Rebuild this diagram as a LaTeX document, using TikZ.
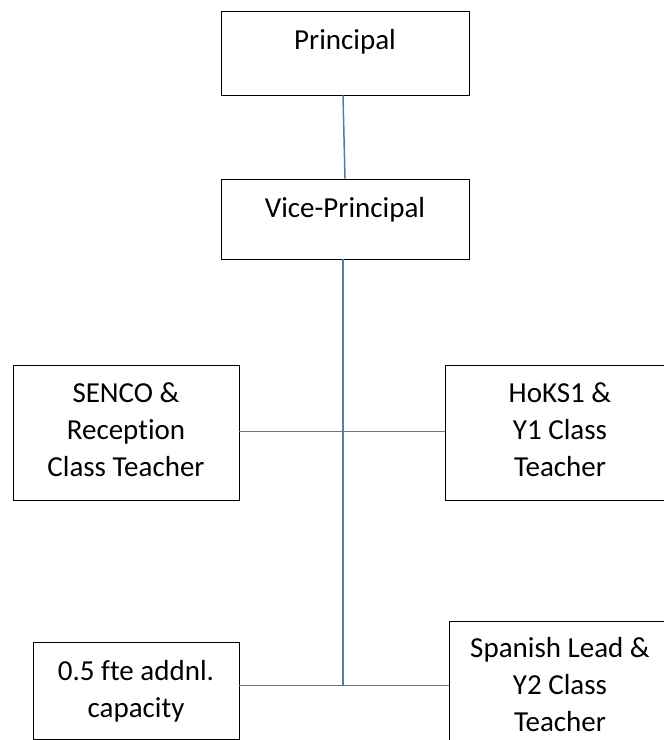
\documentclass[tikz,border=0pt]{standalone}
\usepackage{fontspec}
\setmainfont{Carlito}[Ligatures=NoCommon]
\usetikzlibrary{calc, positioning}
\definecolor{linkblue}{RGB}{74,126,187}
\tikzset{
  post/.style = {draw, line width=0.8pt, inner sep=0pt},
  posttext/.style = {inner sep=0pt, align=center, font=\fontsize{29}{37}\selectfont},
  link/.style = {draw=linkblue, line width=1.5pt}
}

\begin{document}
\begin{tikzpicture}[x=1pt, y=1pt]
  \useasboundingbox (0,0) rectangle (664,-740);
  \clip (0,0) rectangle (664,-740);

  % boxes
  \node[post, minimum width=248pt, minimum height=84pt] (prin) at (345,-53) {};
  \node[post, minimum width=248pt, minimum height=80pt] (vice) at (345,-219) {};
  \node[post, minimum width=226pt, minimum height=135pt] (senco) at (126,-432.5) {};
  \node[post, minimum width=230pt, minimum height=135pt] (hoks) at (560,-432.5) {};
  \node[post, minimum width=206pt, minimum height=97pt] (fte) at (136,-690.5) {};
  \node[post, minimum width=222pt, minimum height=140pt] (span) at (560,-691) {};

  % texts
  \node[posttext, below=12.5pt of prin.north] (prinT) {\strut Principal};
  \node[posttext, below=12.5pt of vice.north] (viceT) {\strut Vice-Principal};
  \node[posttext, below=12pt of senco.north] (sencoT) {\strut SENCO \&\\Reception\\Class Teacher};
  \node[posttext, below=12pt of hoks.north] (hoksT) {\strut HoKS1 \&\\Y1 Class\\Teacher};
  \node[posttext, below=13pt of fte.north] (fteT) {\strut 0.5 fte addnl.\\capacity};
  \node[posttext, below=11pt of span.north] (spanT) {\strut Spanish Lead \&\\Y2 Class\\Teacher};

  % connectors
  \coordinate (jtop) at ($(vice.south)+(-2,0)$);
  \coordinate (jmid) at ($(jtop)+(0,-172)$);
  \coordinate (jbot) at ($(jtop)+(0,-426)$);
  \draw[link] ($(prin.south)+(-2,0)$) -- (vice.north);
  \draw[link] (jtop) -- (jbot);
  \draw[link] (senco.east |- jmid) -- (hoks.west |- jmid);
  \draw[link] (fte.east |- jbot) -- (span.west |- jbot);
\end{tikzpicture}
\end{document}
